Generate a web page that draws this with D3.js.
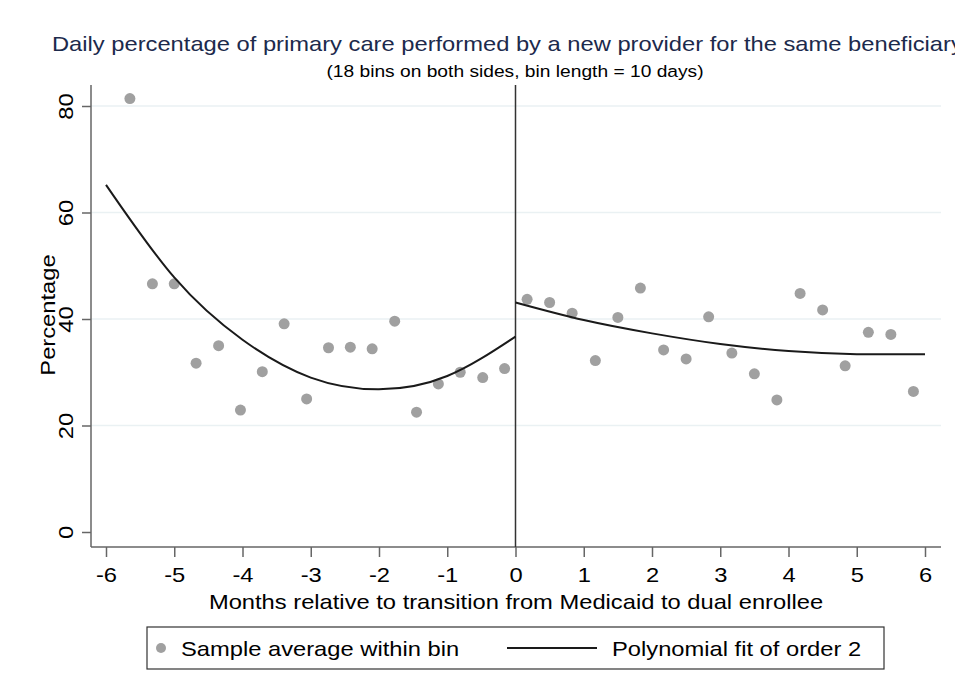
<!DOCTYPE html>
<html>
<head>
<meta charset="UTF-8">
<title></title>
<script src="https://cdn.jsdelivr.net/npm/d3@7"></script>
<style>
  body{margin:0;background:#fff;}
  text{font-family:"Liberation Sans",Arial,sans-serif;}
</style>
</head>
<body>
<div id="chart"></div>
<script>
// bin centres (months) and sample averages
var leftX = [-5.65,-5.32,-5.00,-4.68,-4.35,-4.03,-3.71,-3.39,-3.06,-2.74,-2.42,-2.10,-1.77,-1.45,-1.13,-0.81,-0.48,-0.16];
var leftY = [81.4,46.6,46.6,31.7,35.0,22.9,30.1,39.1,25.0,34.6,34.7,34.4,39.6,22.5,27.8,30.0,29.0,30.7];
var rightX = [0.17,0.50,0.83,1.17,1.50,1.83,2.17,2.50,2.83,3.17,3.50,3.83,4.17,4.50,4.83,5.17,5.50,5.83];
var rightY = [43.7,43.1,41.1,32.2,40.3,45.8,34.2,32.5,40.4,33.6,29.7,24.8,44.8,41.7,31.2,37.5,37.1,26.4];

// fitted curves, read at each month
var fitLeftX = [-6,-5,-4,-3,-2,-1,0];
var fitLeftY = [65.2,47.8,36.1,29.0,26.8,29.3,36.7];
var fitRightX = [0,1,2,3,4,5,6];
var fitRightY = [43.1,39.8,37.3,35.3,34.0,33.4,33.4];

var xTicks = [-6,-5,-4,-3,-2,-1,0,1,2,3,4,5,6];
var yTicks = [0,20,40,60,80];

var width = 955, height = 700;
var sx = 1.13; // text in the picture is a bit wider than Liberation Sans
var svg = d3.select("#chart").append("svg")
  .attr("width", width).attr("height", height);

var x = d3.scaleLinear().domain([-6,6]).range([106,925]);
var y = d3.scaleLinear().domain([0,80]).range([532,106]);
var plot = {left:91, right:941, top:85, bottom:547};

// grid
svg.selectAll(".grid").data(yTicks.filter(function(d){return d>0;})).enter()
  .append("line")
  .attr("x1", plot.left).attr("x2", plot.right)
  .attr("y1", function(d){return y(d);}).attr("y2", function(d){return y(d);})
  .attr("stroke", "#eaf1f3").attr("stroke-width", 1.5);

// axes
var xAxis = d3.axisBottom(x).tickValues(xTicks).tickSize(10).tickPadding(10)
  .tickFormat(function(d){return d;});
var gx = svg.append("g").attr("transform","translate(0,"+plot.bottom+")").call(xAxis);
gx.select(".domain").remove();
gx.append("line").attr("x1",plot.left).attr("x2",plot.right)
  .attr("stroke","#666").attr("stroke-width",1.5);
gx.selectAll(".tick line").attr("stroke","#666").attr("stroke-width",1.5);
gx.selectAll(".tick text").attr("font-size","21px").attr("fill","#000")
  .attr("font-family","Liberation Sans, Arial, sans-serif")
  .attr("transform","scale("+sx+",1)");

var yAxis = d3.axisLeft(y).tickValues(yTicks).tickSize(9).tickPadding(0);
var gy = svg.append("g").attr("transform","translate("+plot.left+",0)").call(yAxis);
gy.select(".domain").remove();
gy.append("line").attr("y1",plot.top).attr("y2",plot.bottom)
  .attr("stroke","#666").attr("stroke-width",1.5);
gy.selectAll(".tick line").attr("stroke","#666").attr("stroke-width",1.5);
gy.selectAll(".tick text").attr("font-size","21px").attr("fill","#000")
  .attr("font-family","Liberation Sans, Arial, sans-serif")
  .attr("text-anchor","middle")
  .attr("transform","translate(-25,0) rotate(-90) scale("+sx+",1)")
  .attr("x",0).attr("dy","0.35em");

// cutoff line
svg.append("line")
  .attr("x1", x(0)).attr("x2", x(0))
  .attr("y1", plot.top).attr("y2", plot.bottom)
  .attr("stroke","#333").attr("stroke-width",1.5);

// points
var pts = leftX.map(function(d,i){return [d,leftY[i]];})
  .concat(rightX.map(function(d,i){return [d,rightY[i]];}));
svg.selectAll(".pt").data(pts).enter().append("circle")
  .attr("cx", function(d){return x(d[0]);})
  .attr("cy", function(d){return y(d[1]);})
  .attr("r", 5.5).attr("fill","#a0a0a0");

// fits
var line = d3.line().x(function(d){return x(d[0]);}).y(function(d){return y(d[1]);})
  .curve(d3.curveNatural);
[[fitLeftX,fitLeftY],[fitRightX,fitRightY]].forEach(function(s){
  svg.append("path")
    .datum(s[0].map(function(d,i){return [d,s[1][i]];}))
    .attr("d", line).attr("fill","none")
    .attr("stroke","#1a1a1a").attr("stroke-width",2);
});

// text helper: place at (px,py), stretched horizontally
function label(px, py, size, anchor, rot, fill, str){
  return svg.append("text")
    .attr("transform","translate("+px+","+py+")"+(rot?" rotate("+rot+")":"")+" scale("+sx+",1)")
    .attr("text-anchor",anchor).attr("font-size",size+"px").attr("fill",fill)
    .text(str);
}

// titles
label(52, 51, 21, "start", 0, "#1c2a4c",
  "Daily percentage of primary care performed by a new provider for the same beneficiary");
label(515, 77, 17, "middle", 0, "#000", "(18 bins on both sides, bin length = 10 days)");
label(516, 609, 21, "middle", 0, "#000", "Months relative to transition from Medicaid to dual enrollee");
label(55, 315, 21, "middle", -90, "#000", "Percentage");

// legend
svg.append("rect").attr("x",147).attr("y",627).attr("width",737).attr("height",42)
  .attr("fill","#fff").attr("stroke","#333").attr("stroke-width",1.2);
svg.append("circle").attr("cx",161).attr("cy",648).attr("r",5).attr("fill","#a0a0a0");
label(181, 656, 21, "start", 0, "#000", "Sample average within bin");
svg.append("line").attr("x1",507).attr("x2",597).attr("y1",648).attr("y2",648)
  .attr("stroke","#1a1a1a").attr("stroke-width",2);
label(612, 656, 21, "start", 0, "#000", "Polynomial fit of order 2");
</script>
</body>
</html>
